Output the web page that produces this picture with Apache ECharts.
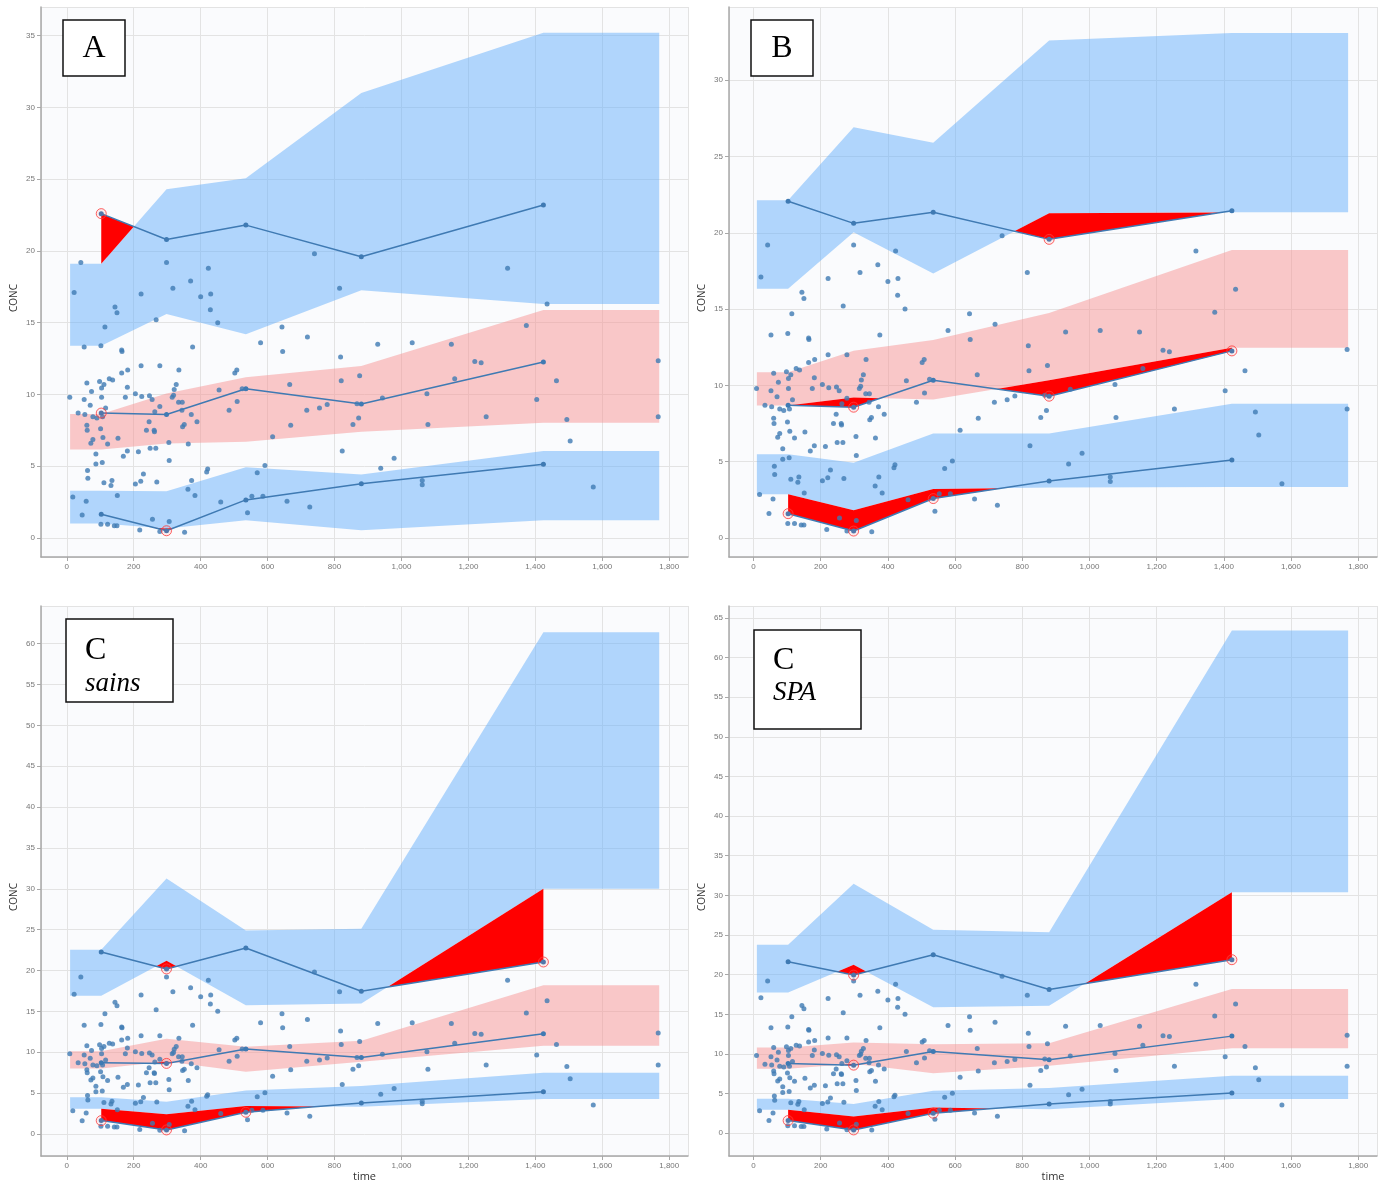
<!DOCTYPE html>
<html>
<head>
<meta charset="utf-8">
<title>VPC</title>
<script src="https://cdn.jsdelivr.net/npm/echarts@6/dist/echarts.min.js"></script>
<style>
html, body { margin: 0; padding: 0; background: #fff; }
#main { width: 1392px; height: 1184px; }
</style>
</head>
<body>
<div id="main"></div>
<script>
// observed data (time, CONC) - same in every panel
const obsPoints = [
  [22, 17.1], [317, 17.4], [370, 17.9], [222, 17.0], [400, 16.8], [430, 17.0], [144, 16.1], [150, 15.7],
  [429, 15.9], [114, 14.7], [451, 15.0], [267, 15.2], [815, 17.4], [52, 13.3], [102, 13.4], [164, 13.1],
  [165, 13.0], [376, 13.3], [579, 13.6], [643, 14.7], [645, 13.0], [719, 14.0], [818, 12.6], [222, 12.0],
  [278, 12.0], [335, 11.7], [164, 11.5], [182, 11.7], [127, 11.1], [137, 11.0], [98, 10.9], [111, 10.7],
  [60, 10.8], [327, 10.7], [104, 10.45], [181, 10.5], [321, 10.35], [74, 10.2], [502, 11.5], [508, 11.7],
  [455, 10.3], [524, 10.4], [820, 10.95], [666, 10.7], [9, 9.8], [52, 9.65], [104, 9.8], [175, 9.8],
  [205, 10.05], [224, 9.85], [247, 9.9], [255, 9.65], [315, 9.8], [319, 9.95], [334, 9.45], [345, 9.45],
  [70, 9.25], [34, 8.7], [54, 8.6], [78, 8.45], [90, 8.35], [116, 9.05], [107, 8.45], [263, 8.8],
  [278, 9.15], [344, 8.9], [372, 8.6], [389, 8.1], [246, 8.1], [346, 7.75], [351, 7.9], [60, 7.85],
  [61, 7.5], [101, 7.6], [238, 7.5], [261, 7.5], [262, 7.4], [485, 8.9], [509, 9.5], [717, 8.9],
  [755, 9.05], [778, 9.3], [669, 7.85], [615, 7.05], [108, 7.0], [153, 6.95], [78, 6.85], [72, 6.6],
  [122, 6.55], [305, 6.65], [363, 6.55], [249, 6.25], [266, 6.25], [823, 6.05], [169, 5.7], [181, 6.05],
  [214, 6.0], [87, 5.85], [306, 5.4], [106, 5.25], [87, 5.15], [592, 5.05], [62, 4.7], [421, 4.8],
  [418, 4.6], [569, 4.55], [229, 4.45], [63, 4.15], [373, 4.0], [135, 4.0], [111, 3.85], [132, 3.65],
  [205, 3.75], [221, 3.95], [269, 3.9], [362, 3.4], [151, 2.95], [383, 2.95], [18, 2.85], [58, 2.55],
  [460, 2.5], [553, 2.9], [586, 2.9], [658, 2.55], [726, 2.15], [540, 1.75], [46, 1.6], [256, 1.3],
  [306, 1.15], [102, 0.95], [122, 0.95], [142, 0.85], [150, 0.85], [218, 0.55], [278, 0.45], [352, 0.4],
  [42, 19.2], [298, 19.2], [423, 18.8], [740, 19.8], [1317, 18.8], [1435, 16.3], [1373, 14.8], [929, 13.5],
  [1032, 13.6], [1149, 13.5], [1219, 12.3], [1238, 12.2], [875, 11.3], [1159, 11.1], [1767, 12.35], [1463, 10.95],
  [1076, 10.05], [943, 9.75], [867, 9.35], [1404, 9.65], [855, 7.9], [872, 8.35], [1079, 7.9], [1253, 8.45],
  [1494, 8.25], [1504, 6.75], [1767, 8.45], [978, 5.55], [938, 4.85], [1062, 4.0], [1062, 3.7], [1573, 3.55]
];

// bin centres and extent of the simulated bands
const binTime = [103, 298, 535, 880, 1424];
const bandStart = 10;
const bandEnd = 1770;

// panel A
const A_obs05 = [1.65, 0.5, 2.65, 3.77, 5.14];
const A_obs50 = [8.7, 8.6, 10.4, 9.33, 12.26];
const A_obs95 = [22.6, 20.8, 21.8, 19.6, 23.2];
const A_ci05Lo = [1.0, 0.65, 1.23, 0.53, 1.23];
const A_ci05Hi = [3.28, 3.26, 4.93, 4.42, 6.05];
const A_ci50Lo = [6.16, 6.58, 6.7, 7.4, 8.02];
const A_ci50Hi = [8.63, 10.07, 11.19, 11.98, 15.88];
const A_ci95Lo = [13.4, 15.6, 14.2, 17.26, 16.3];
const A_ci95Hi = [19.1, 24.3, 25.07, 31.0, 35.2];

// panel B
const B_obs05 = [1.59, 0.45, 2.58, 3.73, 5.11];
const B_obs50 = [8.7, 8.57, 10.34, 9.29, 12.26];
const B_obs95 = [22.07, 20.62, 21.34, 19.57, 21.45];
const B_ci05Lo = [2.86, 1.81, 3.21, 3.3, 3.34];
const B_ci05Hi = [5.48, 4.92, 6.84, 6.84, 8.8];
const B_ci50Lo = [8.68, 9.2, 9.07, 10.34, 12.46];
const B_ci50Hi = [10.86, 12.27, 12.97, 14.74, 18.87];
const B_ci95Lo = [16.34, 20.03, 17.34, 21.28, 21.34];
const B_ci95Hi = [22.13, 26.92, 25.91, 32.6, 33.1];

// panel C sains
const C_obs05 = [1.63, 0.49, 2.65, 3.79, 5.17];
const C_obs50 = [8.71, 8.63, 10.38, 9.36, 12.25];
const C_obs95 = [22.26, 20.19, 22.75, 17.46, 21.04];
const C_ci05Lo = [3.09, 2.4, 3.42, 3.34, 4.27];
const C_ci05Hi = [4.48, 3.95, 5.33, 5.86, 7.49];
const C_ci50Lo = [8.02, 8.85, 7.6, 8.83, 10.79];
const C_ci50Hi = [10.13, 11.64, 10.66, 11.4, 18.2];
const C_ci95Lo = [16.9, 21.2, 15.75, 15.95, 30.0];
const C_ci95Hi = [22.55, 31.26, 24.9, 25.1, 61.4];

// panel C SPA
const D_obs05 = [1.6, 0.42, 2.53, 3.7, 5.09];
const D_obs50 = [8.8, 8.59, 10.31, 9.26, 12.25];
const D_obs95 = [21.63, 19.95, 22.52, 18.14, 21.89];
const D_ci05Lo = [2.95, 2.1, 3.24, 3.03, 4.33];
const D_ci05Hi = [4.34, 3.7, 5.35, 5.72, 7.24];
const D_ci50Lo = [8.12, 8.75, 7.58, 8.5, 10.73];
const D_ci50Hi = [10.82, 11.45, 11.24, 11.36, 18.18];
const D_ci95Lo = [17.76, 21.25, 15.9, 16.08, 30.4];
const D_ci95Hi = [23.78, 31.48, 25.67, 25.34, 63.4];

// translucent, so the grid lines show through like in the original
const blueBand = 'rgba(102,175,251,0.5)';
const pinkBand = 'rgba(248,147,147,0.5)';
const pointColor = '#3f7ab3';

const panels = [
  { grid: { left: 41, top: 7, width: 647, height: 550 }, x: [-77, 1856], y: [-1.33, 37], xName: '',
    obs: [A_obs05, A_obs50, A_obs95], ci: [[A_ci05Lo, A_ci05Hi], [A_ci50Lo, A_ci50Hi], [A_ci95Lo, A_ci95Hi]] },
  { grid: { left: 729, top: 7, width: 648, height: 550 }, x: [-73, 1856], y: [-1.25, 34.8], xName: '',
    obs: [B_obs05, B_obs50, B_obs95], ci: [[B_ci05Lo, B_ci05Hi], [B_ci50Lo, B_ci50Hi], [B_ci95Lo, B_ci95Hi]] },
  { grid: { left: 41, top: 606, width: 647, height: 550 }, x: [-77, 1856], y: [-2.7, 64.6], xName: 'time',
    obs: [C_obs05, C_obs50, C_obs95], ci: [[C_ci05Lo, C_ci05Hi], [C_ci50Lo, C_ci50Hi], [C_ci95Lo, C_ci95Hi]] },
  { grid: { left: 729, top: 606, width: 648, height: 550 }, x: [-73, 1856], y: [-2.87, 66.5], xName: 'time',
    obs: [D_obs05, D_obs50, D_obs95], ci: [[D_ci05Lo, D_ci05Hi], [D_ci50Lo, D_ci50Hi], [D_ci95Lo, D_ci95Hi]] }
];

// band polygon: flat before the first bin and after the last one
function bandPolygon(lo, hi) {
  const xs = [bandStart].concat(binTime, [bandEnd]);
  const l = [lo[0]].concat(lo, [lo[lo.length - 1]]);
  const h = [hi[0]].concat(hi, [hi[hi.length - 1]]);
  const pts = [];
  for (let i = 0; i < xs.length; i++) pts.push([xs[i], h[i]]);
  for (let i = xs.length - 1; i >= 0; i--) pts.push([xs[i], l[i]]);
  return pts;
}

// regions where the observed percentile lies outside the simulated band edge
function excess(o, e, sign) {
  const polys = [];
  let cur = null;
  for (let i = 0; i < binTime.length; i++) {
    const d = sign * (o[i] - e[i]);
    if (i > 0) {
      const dp = sign * (o[i - 1] - e[i - 1]);
      if ((dp > 0) !== (d > 0)) {
        const t = dp / (dp - d);
        const xc = binTime[i - 1] + t * (binTime[i] - binTime[i - 1]);
        const yc = o[i - 1] + t * (o[i] - o[i - 1]);
        if (cur) {
          cur.top.push([xc, yc]);
          polys.push(cur);
          cur = null;
        } else {
          cur = { top: [[xc, yc]], bot: [] };
        }
      }
    }
    if (d > 0) {
      if (!cur) cur = { top: [], bot: [] };
      cur.top.push([binTime[i], o[i]]);
      cur.bot.push([binTime[i], e[i]]);
    }
  }
  if (cur) polys.push(cur);
  return polys.map(p => p.top.concat(p.bot.reverse()));
}

const grids = [], xAxes = [], yAxes = [], series = [];

panels.forEach((p, i) => {
  grids.push(Object.assign({ show: true, backgroundColor: '#fafbfd', borderWidth: 0 }, p.grid));
  xAxes.push({
    gridIndex: i, type: 'value', min: p.x[0], max: p.x[1], minInterval: 200, maxInterval: 200, splitNumber: 10,
    name: p.xName, nameLocation: 'middle', nameGap: 12,
    nameTextStyle: { fontSize: 11, color: '#333', fontFamily: 'Open Sans' },
    axisLine: { show: true, onZero: false, lineStyle: { color: '#a8a8a8', width: 1.5 } },
    axisTick: { show: true, length: 4, lineStyle: { color: '#a8a8a8' } },
    axisLabel: { fontSize: 8, color: '#777', margin: 6, showMinLabel: false, showMaxLabel: false },
    splitLine: { show: true, lineStyle: { color: '#e3e3e3' } }
  });
  yAxes.push({
    gridIndex: i, type: 'value', min: p.y[0], max: p.y[1], minInterval: 5, maxInterval: 5, splitNumber: 10,
    name: 'CONC', nameLocation: 'middle', nameGap: 22,
    nameTextStyle: { fontSize: 10, color: '#333', fontFamily: 'Open Sans', padding: [0, 32, 0, 0] },
    axisLine: { show: true, onZero: false, lineStyle: { color: '#a8a8a8', width: 1.5 } },
    axisTick: { show: true, length: 4, lineStyle: { color: '#a8a8a8' } },
    axisLabel: { fontSize: 8, color: '#777', margin: 6, showMinLabel: false, showMaxLabel: false },
    splitLine: { show: true, lineStyle: { color: '#e3e3e3' } }
  });

  series.push({
    type: 'custom', xAxisIndex: i, yAxisIndex: i, silent: true, clip: true, z: 1,
    data: [[0, 0]],
    renderItem: function (params, api) {
      const children = [];
      p.ci.forEach((c, k) => {
        children.push({
          type: 'polygon',
          shape: { points: bandPolygon(c[0], c[1]).map(v => api.coord(v)) },
          style: { fill: k === 1 ? pinkBand : blueBand }
        });
      });
      p.obs.forEach((o, k) => {
        excess(o, p.ci[k][1], 1).concat(excess(o, p.ci[k][0], -1)).forEach(poly => {
          children.push({
            type: 'polygon',
            shape: { points: poly.map(v => api.coord(v)) },
            style: { fill: '#ff0000' }
          });
        });
      });
      return { type: 'group', children: children };
    }
  });

  series.push({
    type: 'scatter', xAxisIndex: i, yAxisIndex: i, data: obsPoints, symbolSize: 5, z: 3,
    itemStyle: { color: pointColor }
  });

  const outside = [];
  p.obs.forEach((o, k) => {
    series.push({
      type: 'line', xAxisIndex: i, yAxisIndex: i, z: 4,
      data: binTime.map((t, j) => [t, o[j]]),
      symbol: 'circle', symbolSize: 5, showSymbol: true,
      lineStyle: { color: pointColor, width: 1.5 },
      itemStyle: { color: pointColor }
    });
    binTime.forEach((t, j) => {
      if (o[j] < p.ci[k][0][j] || o[j] > p.ci[k][1][j]) outside.push([t, o[j]]);
    });
  });

  series.push({
    type: 'scatter', xAxisIndex: i, yAxisIndex: i, data: outside, symbolSize: 10, z: 5,
    itemStyle: { color: 'rgba(255,90,90,0.12)', borderColor: '#ff3b3b', borderWidth: 1 }
  });
});

function labelBox(x, y, w, h, lines) {
  const children = [{
    type: 'rect', z: 100, shape: { x: x, y: y, width: w, height: h },
    style: { fill: '#fff', stroke: '#111', lineWidth: 1.5 }
  }];
  lines.forEach(t => children.push({
    type: 'text', z: 101, x: t.x, y: t.y,
    style: {
      text: t.text, fill: '#000', font: t.font,
      align: t.align || 'left', verticalAlign: 'middle'
    }
  }));
  return { type: 'group', z: 100, children: children };
}

const chart = echarts.init(document.getElementById('main'));
chart.setOption({
  animation: false,
  backgroundColor: '#fff',
  grid: grids,
  xAxis: xAxes,
  yAxis: yAxes,
  series: series,
  graphic: [
    labelBox(63, 20, 62, 56, [{ text: 'A', x: 94, y: 49, align: 'center', font: '32px "Liberation Serif"' }]),
    labelBox(751, 20, 62, 56, [{ text: 'B', x: 782, y: 49, align: 'center', font: '32px "Liberation Serif"' }]),
    labelBox(66, 619, 107, 83, [
      { text: 'C', x: 85, y: 651, font: '32px "Liberation Serif"' },
      { text: 'sains', x: 85, y: 684, font: 'italic 27px "Liberation Serif"' }
    ]),
    labelBox(754, 630, 107, 99, [
      { text: 'C', x: 773, y: 661, font: '32px "Liberation Serif"' },
      { text: 'SPA', x: 773, y: 693, font: 'italic 27px "Liberation Serif"' }
    ])
  ]
});
</script>
</body>
</html>
